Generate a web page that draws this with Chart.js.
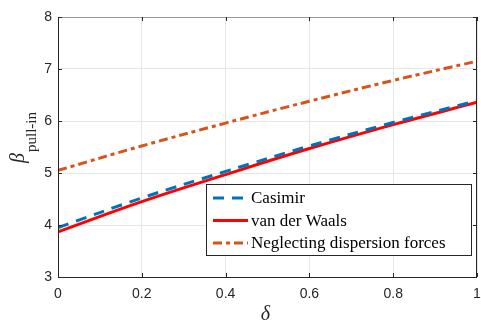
<!DOCTYPE html>
<html><head><meta charset="utf-8">
<script src="https://cdn.jsdelivr.net/npm/chart.js@4"></script>
<style>html,body{margin:0;padding:0;background:#fff}#w{width:481px;height:324px}</style>
</head><body><div id="w"><canvas id="c" width="481" height="324"></canvas></div>
<script>
const delta = [0, 0.2, 0.4, 0.6, 0.8, 1.0];
const casimir = [3.95, 4.52, 5.03, 5.52, 5.97, 6.39];
const vdw = [3.87, 4.45, 4.97, 5.47, 5.93, 6.36];
const neglect = [5.05, 5.52, 5.96, 6.38, 6.78, 7.15];
const xTicks = [0, 0.2, 0.4, 0.6, 0.8, 1];
const yTicks = [3, 4, 5, 6, 7, 8];
const labels = ['Casimir', 'van der Waals', 'Neglecting dispersion forces'];

const pts = a => a.map((v, i) => ({x: delta[i], y: v}));

const decor = {
  id: 'decor',
  afterDraw(ch) {
    const c = ch.ctx, a = ch.chartArea, xs = ch.scales.x, ys = ch.scales.y;
    c.save();
    c.strokeStyle = '#262626'; c.lineWidth = 1;
    c.beginPath();
    c.moveTo(a.left + 0.5, a.top); c.lineTo(a.left + 0.5, a.bottom + 0.5); c.lineTo(a.right, a.bottom + 0.5);
    c.moveTo(a.right - 0.5, a.bottom); c.lineTo(a.right - 0.5, a.top);
    c.stroke();
    c.strokeStyle = '#9a9a9a';
    c.beginPath(); c.moveTo(a.left, a.top + 0.5); c.lineTo(a.right - 4, a.top + 0.5); c.stroke();
    c.strokeStyle = '#262626';
    c.beginPath();
    xTicks.forEach(t => { const px = Math.round(xs.getPixelForValue(t)) + 0.5;
      c.moveTo(px, a.bottom); c.lineTo(px, a.bottom - 4); c.moveTo(px, a.top); c.lineTo(px, a.top + 4); });
    yTicks.forEach(t => { const py = Math.round(ys.getPixelForValue(t)) + 0.5;
      c.moveTo(a.left, py); c.lineTo(a.left + 4, py); c.moveTo(a.right, py); c.lineTo(a.right - 4, py); });
    c.stroke();
    // axis titles
    c.fillStyle = '#262626';
    c.font = 'italic 20px "Liberation Serif"';
    c.textAlign = 'center'; c.textBaseline = 'alphabetic';
    c.fillText('δ', (a.left + a.right) / 2 - 2, 320);
    c.save();
    c.translate(24, 138);
    c.rotate(-Math.PI / 2);
    c.textAlign = 'left';
    c.font = 'italic 20px "Liberation Serif"';
    const bw = c.measureText('β').width;
    c.font = '15px "Liberation Serif"';
    const sw = c.measureText('pull-in').width;
    const x0 = -(bw + sw) / 2;
    c.font = 'italic 20px "Liberation Serif"';
    c.fillText('β', x0, 0);
    c.font = '15px "Liberation Serif"';
    c.fillText('pull-in', x0 + bw + 1, 12);
    c.restore();
    // legend
    const lx = 206, ly = 184, lw = 265, lh = 71;
    c.fillStyle = '#fff'; c.fillRect(lx, ly, lw, lh);
    c.strokeStyle = '#262626'; c.lineWidth = 1;
    c.strokeRect(lx + 0.5, ly + 0.5, lw, lh);
    c.font = '17px "Liberation Serif"'; c.textAlign = 'left'; c.textBaseline = 'middle';
    ch.data.datasets.forEach((ds, i) => {
      const yy = ly + 14 + i * 22.5;
      c.strokeStyle = ds.borderColor; c.lineWidth = 3;
      c.setLineDash(ds.borderDash || []);
      c.beginPath(); c.moveTo(lx + 7, yy); c.lineTo(lx + 42, yy); c.stroke();
      c.setLineDash([]);
      c.fillStyle = '#000';
      c.fillText(ds.label, lx + 45, yy + 1);
    });
    c.restore();
  }
};

new Chart(document.getElementById('c'), {
  type: 'line',
  data: { datasets: [
    { label: labels[0], data: pts(casimir), borderColor: '#0072BD', borderWidth: 3, borderDash: [11, 8], pointRadius: 0, tension: 0.4, order: 1 },
    { label: labels[1], data: pts(vdw), borderColor: '#FF0000', borderWidth: 3, pointRadius: 0, tension: 0.4, order: 2 },
    { label: labels[2], data: pts(neglect), borderColor: '#D95319', borderWidth: 3, borderDash: [9, 4, 4, 4], pointRadius: 0, tension: 0.4, order: 0 }
  ]},
  options: {
    responsive: false, animation: false, devicePixelRatio: 1,
    layout: { padding: { top: 17, right: 4, left: 0, bottom: 0 } },
    plugins: { legend: { display: false }, tooltip: { enabled: false } },
    scales: {
      x: { type: 'linear', min: 0, max: 1,
        afterBuildTicks: s => { s.ticks = xTicks.map(v => ({value: v})); },
        afterFit: s => { s.height = 47; s.paddingLeft = 0; s.paddingRight = 0; },
        grid: { color: '#e6e6e6', drawTicks: false },
        border: { display: false },
        ticks: { color: '#262626', font: { family: 'Liberation Sans', size: 14 }, padding: 9, maxRotation: 0,
          callback: v => String(v) } },
      y: { min: 3, max: 8,
        afterBuildTicks: s => { s.ticks = yTicks.map(v => ({value: v})); },
        afterFit: s => { s.width = 58; s.paddingTop = 0; s.paddingBottom = 0; },
        grid: { color: '#e6e6e6', drawTicks: false },
        border: { display: false },
        ticks: { color: '#262626', font: { family: 'Liberation Sans', size: 14 }, padding: 6,
          callback: v => String(v) } }
    }
  },
  plugins: [decor]
});
</script></body></html>
